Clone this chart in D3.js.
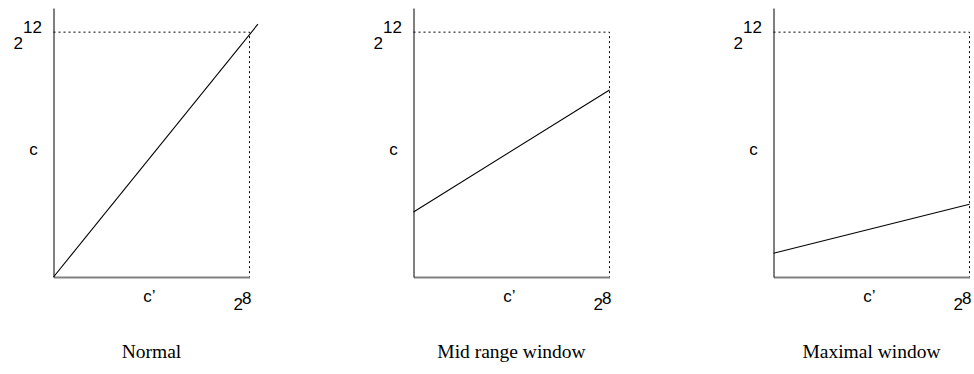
<!DOCTYPE html>
<html>
<head>
<meta charset="utf-8">
<script src="https://cdn.jsdelivr.net/npm/d3@7"></script>
<style>
  body { margin: 0; background: #fff; }
  svg { display: block; }
  .sans { font-family: "Liberation Sans", Arial, sans-serif; font-size: 17px; fill: #000; }
  .title { font-family: "Liberation Serif", "Times New Roman", serif; font-size: 19.5px; fill: #000; }
</style>
</head>
<body>
<div class="chartBoard"></div>
<script>
// panels and their mapping lines (c' on x, c on y)
const titles = ["Normal", "Mid range window", "Maximal window"];
const xStart = [0, 0, 0];
const yStart = [0, 1087, 396];
const xEnd = [267, 256, 256];
const yEnd = [4230, 3128, 1216];

const cMax = 4096,   // 2^12
    cpMax = 256;     // 2^8

const w = 974,
    h = 374,
    padTop = 8,      // top of the y axis
    pw = 196,        // plot width
    ph = 269,        // plot height (axis length)
    step = 360;      // distance between panels

const svg = d3.select(".chartBoard")
    .append("svg")
    .attr("width", w)
    .attr("height", h);

const xScale = d3.scaleLinear().domain([0, cpMax]).range([0, pw]);
const yScale = d3.scaleLinear().domain([0, 4500]).range([ph, 0]);

titles.forEach((t, i) => {
    const g = svg.append("g")
        .attr("transform", "translate(" + (53.5 + i * step) + "," + padTop + ")");

    // dotted guides at c = 2^12 and c' = 2^8
    g.append("path")
        .attr("d", d3.line()([
            [xScale(0), yScale(cMax)],
            [xScale(cpMax), yScale(cMax)],
            [xScale(cpMax), yScale(0)]
        ]))
        .attr("fill", "none")
        .attr("stroke", "#000")
        .attr("stroke-width", 1)
        .attr("stroke-dasharray", "2,3");

    // x axis (grey baseline)
    const xAxis = g.append("g")
        .attr("transform", "translate(0," + ph + ")")
        .call(d3.axisBottom(xScale).ticks(0).tickSizeOuter(0));
    xAxis.select(".domain").attr("stroke", "#808080").attr("stroke-width", 2);

    // y axis
    const yAxis = g.append("g")
        .call(d3.axisLeft(yScale).ticks(0).tickSizeOuter(0));
    yAxis.select(".domain").attr("stroke", "#000").attr("stroke-width", 1);

    // mapping line
    g.append("line")
        .attr("x1", xScale(xStart[i]))
        .attr("y1", yScale(yStart[i]))
        .attr("x2", xScale(xEnd[i]))
        .attr("y2", yScale(yEnd[i]))
        .attr("stroke", "#000")
        .attr("stroke-width", 1.1);

    // labels
    const t12 = g.append("text")
        .attr("class", "sans")
        .attr("x", -40)
        .attr("y", 41)
        .text("2");
    t12.append("tspan").attr("dy", -16).text("12");

    g.append("text")
        .attr("class", "sans")
        .attr("x", -20)
        .attr("y", 147)
        .attr("text-anchor", "middle")
        .text("c");

    g.append("text")
        .attr("class", "sans")
        .attr("x", xScale(cpMax / 2) - 2)
        .attr("y", 294)
        .attr("text-anchor", "middle")
        .text("c’");

    const t8 = g.append("text")
        .attr("class", "sans")
        .attr("x", xScale(cpMax) - 16)
        .attr("y", 302)
        .text("2");
    t8.append("tspan").attr("dx", -1).attr("dy", -6).text("8");

    g.append("text")
        .attr("class", "title")
        .attr("x", xScale(cpMax / 2))
        .attr("y", 350)
        .attr("text-anchor", "middle")
        .text(t);
});
</script>
</body>
</html>
